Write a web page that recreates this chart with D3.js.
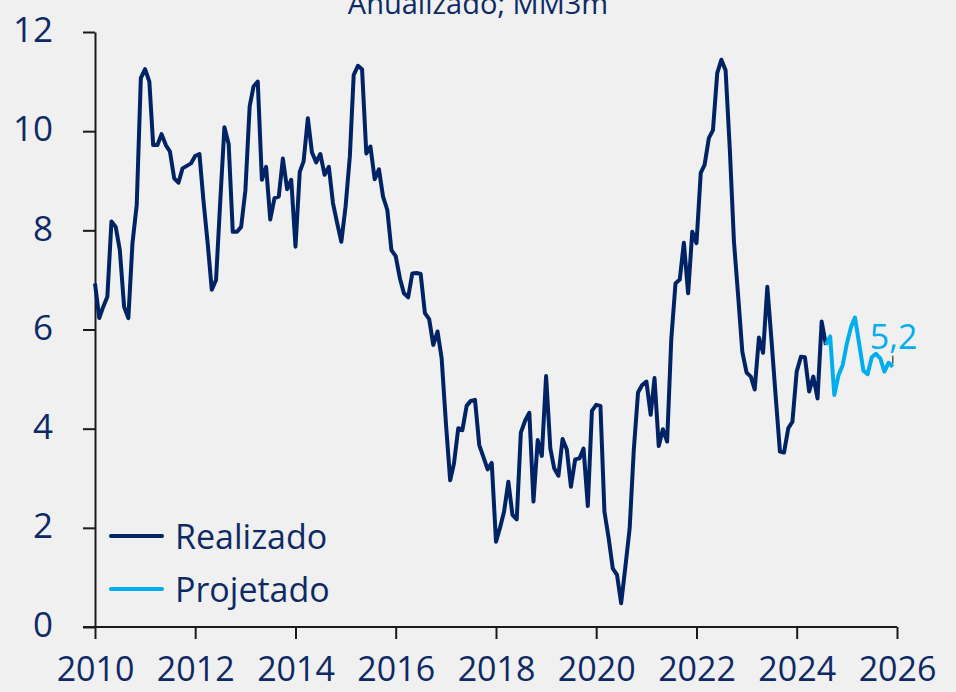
<!DOCTYPE html>
<html>
<head>
<meta charset="utf-8">
<script src="https://cdn.jsdelivr.net/npm/d3@7"></script>
<style>
  html, body { margin: 0; padding: 0; background: #f0f0f0; }
  svg { display: block; }
  text { font-family: "Open Sans", "Noto Sans", sans-serif; }
</style>
</head>
<body>
<svg id="chart" width="956" height="692"></svg>
<script>
// Monthly values starting Jan 2010
const startRealizado = "2010-01";
const realizado = [
  6.93, 6.23, 6.45, 6.66, 8.18, 8.07, 7.60, 6.46, 6.23, 7.74, 8.51, 11.07,
  11.25, 11.00, 9.72, 9.72, 9.94, 9.72, 9.59, 9.05, 8.96, 9.25, 9.30, 9.35,
  9.50, 9.54, 8.61, 7.74, 6.80, 7.00, 8.55, 10.08, 9.74, 7.97, 7.97, 8.07,
  8.81, 10.50, 10.90, 11.00, 9.02, 9.28, 8.22, 8.65, 8.68, 9.45, 8.83, 9.02,
  7.67, 9.18, 9.39, 10.26, 9.57, 9.37, 9.54, 9.12, 9.28, 8.55, 8.14, 7.77,
  8.48, 9.49, 11.13, 11.32, 11.25, 9.55, 9.69, 9.03, 9.23, 8.68, 8.41, 7.60,
  7.48, 7.03, 6.73, 6.65, 7.13, 7.14, 7.12, 6.33, 6.21, 5.69, 5.96, 5.42,
  4.11, 2.96, 3.30, 4.01, 3.97, 4.46, 4.56, 4.58, 3.67, 3.43, 3.18, 3.31,
  1.72, 2.02, 2.33, 2.93, 2.26, 2.17, 3.92, 4.16, 4.32, 2.53, 3.77, 3.45,
  5.06, 3.60, 3.20, 3.05, 3.79, 3.58, 2.83, 3.38, 3.40, 3.60, 2.44, 4.36,
  4.48, 4.46, 2.33, 1.79, 1.18, 1.05, 0.48, 1.22, 1.99, 3.57, 4.73, 4.88,
  4.95, 4.28, 5.02, 3.65, 3.99, 3.74, 5.79, 6.93, 7.01, 7.75, 6.73, 7.97,
  7.74, 9.16, 9.32, 9.86, 10.02, 11.17, 11.44, 11.23, 9.62, 7.77, 6.66, 5.55,
  5.13, 5.05, 4.79, 5.84, 5.53, 6.86, 5.80, 4.65, 3.54, 3.52, 4.01, 4.14,
  5.15, 5.45, 5.44, 4.75, 5.05, 4.61, 6.16, 5.69
];
// Monthly values starting Aug 2024
const startProjetado = "2024-08";
const projetado = [
  5.69, 5.86, 4.68, 5.08, 5.28, 5.72, 6.06, 6.24, 5.70, 5.17, 5.10, 5.44,
  5.51, 5.42, 5.15, 5.33, 5.25
];
const yTicks = [0, 2, 4, 6, 8, 10, 12];
const xTickYears = [2010, 2012, 2014, 2016, 2018, 2020, 2022, 2024, 2026];
const seriesNames = ["Realizado", "Projetado"];
const titleText = "Anualizado; MM3m";
const lastLabel = "5,2";

const navy = "#002366";
const blue = "#00aeef";
const textColor = "#0d2a66";

const parseM = d3.timeParse("%Y-%m");
function toSeries(start, vals) {
  const s = parseM(start);
  return vals.map((v, i) => ({ date: d3.timeMonth.offset(s, i), value: v }));
}
const dReal = toSeries(startRealizado, realizado);
const dProj = toSeries(startProjetado, projetado);

const svg = d3.select("#chart");
const x = d3.scaleTime()
  .domain([new Date(2010, 0, 1), new Date(2026, 0, 1)])
  .range([95, 897]);
const y = d3.scaleLinear().domain([0, 12]).range([627, 32]);

// Title (partially cut off at top, as in the reference)
svg.append("text")
  .attr("x", 478).attr("y", 14)
  .attr("text-anchor", "middle")
  .attr("font-size", 29)
  .attr("fill", textColor)
  .text(titleText);

// Y axis
const yAxis = svg.append("g")
  .attr("transform", "translate(95,0)")
  .call(d3.axisLeft(y).tickValues(yTicks).tickSize(12).tickPadding(30).tickSizeOuter(0));
yAxis.select(".domain").attr("stroke", "#1a1a1a").attr("stroke-width", 2);
yAxis.selectAll(".tick line").attr("stroke", "#1a1a1a").attr("stroke-width", 2);
yAxis.selectAll(".tick text")
  .attr("font-size", 35)
  .attr("fill", textColor)
  .attr("font-family", "'Open Sans', 'Noto Sans', sans-serif")
  .attr("dy", "0.28em");

// X axis
const xAxis = svg.append("g")
  .attr("transform", "translate(0,627)")
  .call(d3.axisBottom(x)
    .tickValues(xTickYears.map(yr => new Date(yr, 0, 1)))
    .tickFormat(d3.timeFormat("%Y"))
    .tickSize(12).tickPadding(18).tickSizeOuter(0));
xAxis.select(".domain").attr("stroke", "#1a1a1a").attr("stroke-width", 2)
  .attr("d", "M83,0H897");
xAxis.selectAll(".tick line").attr("stroke", "#1a1a1a").attr("stroke-width", 2);
xAxis.selectAll(".tick text")
  .attr("font-size", 34)
  .attr("fill", textColor)
  .attr("font-family", "'Open Sans', 'Noto Sans', sans-serif");

// Lines
const line = d3.line().x(d => x(d.date)).y(d => y(d.value));
svg.append("path").datum(dReal)
  .attr("d", line).attr("fill", "none")
  .attr("stroke", navy).attr("stroke-width", 4)
  .attr("stroke-linejoin", "round");
svg.append("path").datum(dProj)
  .attr("d", line).attr("fill", "none")
  .attr("stroke", blue).attr("stroke-width", 4)
  .attr("stroke-linejoin", "round");

// Last value label and small marker
const last = dProj[dProj.length - 1];
svg.append("line")
  .attr("x1", x(last.date)).attr("x2", x(last.date))
  .attr("y1", y(last.value) - 11).attr("y2", y(last.value) - 3)
  .attr("stroke", "#555").attr("stroke-width", 1.5);
svg.append("text")
  .attr("x", x(last.date) - 23).attr("y", y(last.value) - 18)
  .attr("font-size", 34)
  .attr("fill", blue)
  .text(lastLabel);

// Legend
const legend = svg.append("g");
[navy, blue].forEach((c, i) => {
  const ly = 536 + i * 53;
  legend.append("line")
    .attr("x1", 111).attr("x2", 162)
    .attr("y1", ly).attr("y2", ly)
    .attr("stroke", c).attr("stroke-width", 4)
    .attr("stroke-linecap", "round");
  legend.append("text")
    .attr("x", 175).attr("y", ly + 13)
    .attr("font-size", 34)
    .attr("fill", textColor)
    .text(seriesNames[i]);
});
</script>
</body>
</html>
